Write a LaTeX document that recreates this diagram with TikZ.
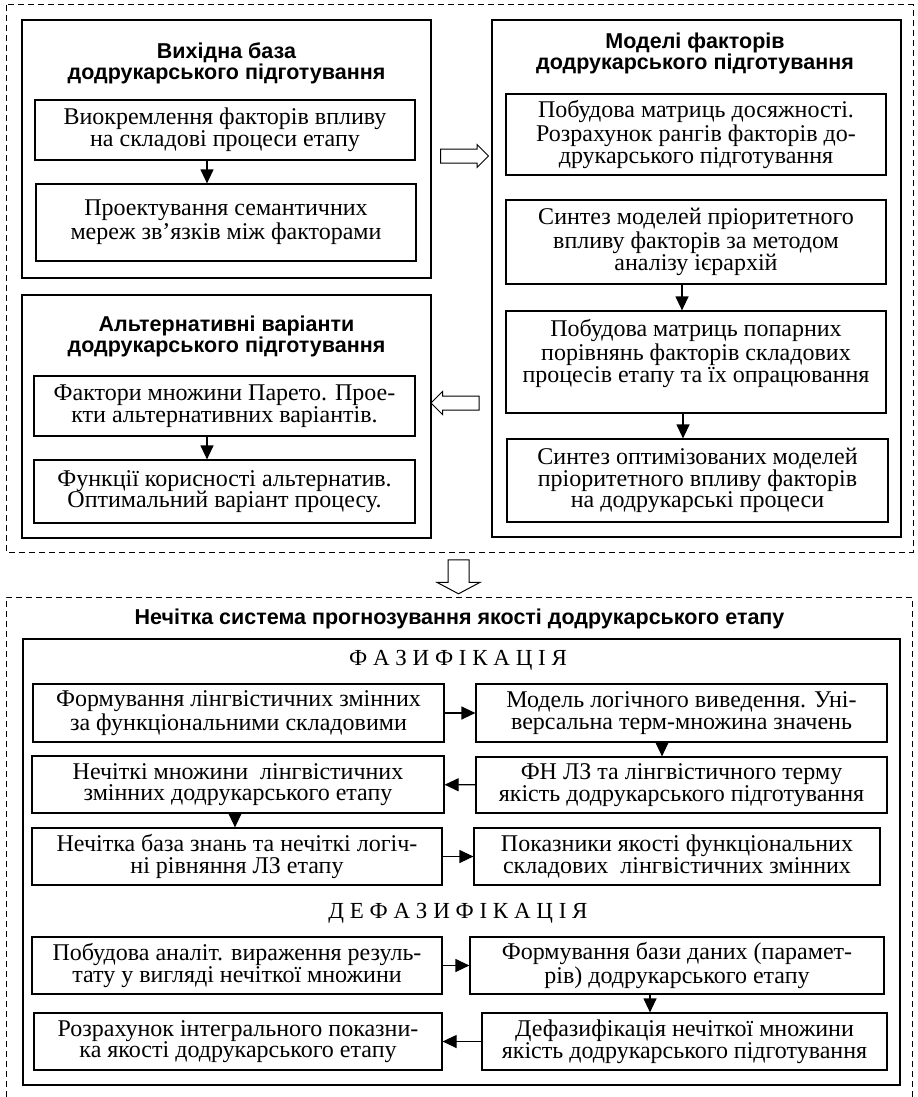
\documentclass[tikz,border=0pt]{standalone}
\usepackage{fontspec}
\setmainfont{Liberation Serif}
\setsansfont{Liberation Sans}
\usetikzlibrary{arrows.meta,shapes.arrows}

\begin{document}
\begin{tikzpicture}[x=0.5pt, y=-0.5pt,
    txt/.style={draw, rectangle, line width=0.6pt, align=center, inner sep=0pt, font=\fontsize{12}{10.85}\selectfont},
    bigbox/.style={draw, rectangle, line width=0.6pt, inner sep=0pt},
    boxtitle/.style={align=center, inner sep=0pt, font=\fontsize{10.75}{10.5}\selectfont\sffamily\bfseries},
    phasetxt/.style={inner sep=0pt, font=\fontsize{11.5}{11.5}\selectfont},
    arr/.style={-{Triangle[length=7pt,width=6.5pt]}, line width=0.6pt},
    blockarr/.style={draw, single arrow, line width=0.5pt, inner xsep=0pt, inner ysep=3.25pt, single arrow head extend=2.25pt, minimum height=24pt},
    dashframe/.style={line width=0.5pt, dash pattern=on 3pt off 2pt}]
  \useasboundingbox (0,0) rectangle (917,1097);

  \draw[dashframe] (6,5) rectangle (913,552);
  \node[bigbox, minimum width=204.5pt, minimum height=129pt] (base) at (226.5,149) {};
  \node[boxtitle] (baseT) at (226.5,63) {Вихідна база\\додрукарського підготування};
  \node[txt, minimum width=190pt, minimum height=30pt] (b1) at (225,130) {Виокремлення факторів впливу\\на складові процеси етапу};
  \node[txt, minimum width=190pt, minimum height=38.5pt] (b2) at (226,222.5) {Проектування семантичних\\мереж зв’язків між факторами};
  \draw[arr] ([xshift=-9pt]b1.south) -- ([xshift=-9pt]b1.south |- b2.north);

  \node[bigbox, minimum width=204.5pt, minimum height=121.5pt] (alt) at (226.5,416.5) {};
  \node[boxtitle] (altT) at (226.5,336) {Альтернативні варіанти\\додрукарського підготування};
  \node[txt, minimum width=190.5pt, minimum height=30pt] (a1) at (224.5,406) {Фактори множини Парето. Прое-\\кти альтернативних варіантів.};
  \node[txt, minimum width=190.5pt, minimum height=31.5pt] (a2) at (224.5,491.5) {Функції корисності альтернатив.\\Оптимальний варіант процесу.};
  \draw[arr] ([xshift=-8.75pt]a1.south) -- ([xshift=-8.75pt]a1.south |- a2.north);

  \node[bigbox, minimum width=204.5pt, minimum height=258.5pt] (mod) at (696.5,278.5) {};
  \node[boxtitle] (modT) at (695,53) {Моделі факторів\\додрукарського підготування};
  \node[txt, minimum width=190pt, minimum height=40.5pt] (m1) at (696,134.5) {Побудова матриць досяжності.\\Розрахунок рангів факторів до-\\друкарського підготування};
  \node[txt, minimum width=190pt, minimum height=42pt] (m2) at (696,242) {Синтез моделей пріоритетного\\впливу факторів за методом\\аналізу ієрархій};
  \node[txt, minimum width=190pt, minimum height=51pt] (m3) at (696,362) {Побудова матриць попарних\\порівнянь факторів складових\\процесів етапу та їх опрацювання\\~};
  \node[txt, minimum width=190.5pt, minimum height=41.5pt] (m4) at (697.5,480.5) {Синтез оптимізованих моделей\\пріоритетного впливу факторів\\на додрукарські процеси};
  \draw[arr] ([xshift=-7pt]m2.south) -- ([xshift=-7pt]m2.south |- m3.north);
  \draw[arr] ([xshift=-6.5pt]m3.south) -- ([xshift=-6.5pt]m3.south |- m4.north);

  \node[blockarr] (toMod) at (461,156) {};
  \node[blockarr, shape border rotate=180] (toAlt) at (458.5,403) {};
  \node[blockarr, rotate=-90, minimum height=17pt, inner ysep=5pt, single arrow head extend=5.5pt, single arrow tip angle=124] (toFuzzy) at (458.5,574) {};

  \draw[dashframe] (6,1097) |- (912,597) -- (912,1097);
  \node[boxtitle] (fuzT) at (459.5,619) {Нечітка система прогнозування якості додрукарського етапу};
  \node[bigbox, minimum width=438.5pt, minimum height=223pt] (fuz) at (461.5,862) {};
  \node[phasetxt] (ph1) at (458,660) {Ф А З И Ф І К А Ц І Я};
  \node[txt, minimum width=205.5pt, minimum height=29pt] (f1l) at (238.5,713) {Формування лінгвістичних змінних\\за функціональними складовими};
  \node[txt, minimum width=205.5pt, minimum height=29pt] (f1r) at (681.5,713) {Модель логічного виведення. Уні-\\версальна терм-множина значень};
  \node[txt, minimum width=206pt, minimum height=28.5pt] (f2l) at (238,784.5) {Нечіткі множини~ лінгвістичних\\змінних додрукарського етапу};
  \node[txt, minimum width=205.5pt, minimum height=28pt] (f2r) at (681.5,785) {ФН ЛЗ та лінгвістичного терму\\якість додрукарського підготування};
  \node[txt, minimum width=205pt, minimum height=28.5pt] (f3l) at (237,856.5) {Нечітка база знань та нечіткі логіч-\\ні рівняння ЛЗ етапу};
  \node[txt, minimum width=203pt, minimum height=28.5pt] (f3r) at (677,856.5) {Показники якості функціональних\\складових~ лінгвістичних змінних};
  \draw[arr] (f1l) -- (f1r);
  \draw[arr] ([xshift=-9.75pt]f1r.south) -- ([xshift=-9.75pt]f1r.south |- f2r.north);
  \draw[arr] (f2r) -- (f2l);
  \draw[arr] ([xshift=-1.5pt]f2l.south) -- ([xshift=-1.5pt]f2l.south |- f3l.north);
  \draw[arr] (f3l) -- (f3r);

  \node[phasetxt] (ph2) at (458,913) {Д Е Ф А З И Ф І К А Ц І Я};
  \node[txt, minimum width=205pt, minimum height=28.5pt] (d1l) at (237,965.5) {Побудова аналіт. вираження резуль-\\тату у вигляді нечіткої множини};
  \node[txt, minimum width=207pt, minimum height=28.5pt] (d1r) at (677,965.5) {Формування бази даних (парамет-\\рів) додрукарського етапу};
  \node[txt, minimum width=204pt, minimum height=28.5pt] (d2l) at (238,1041.5) {Розрахунок інтегрального показни-\\ка якості додрукарського етапу};
  \node[txt, minimum width=202.5pt, minimum height=28.5pt] (d2r) at (684.5,1041.5) {Дефазифікація нечіткої множини\\якість додрукарського підготування};
  \draw[arr] (d1l) -- (d1r);
  \draw[arr] ([xshift=-13.5pt]d1r.south) -- ([xshift=-13.5pt]d1r.south |- d2r.north);
  \draw[arr] (d2r) -- (d2l);
\end{tikzpicture}
\end{document}
